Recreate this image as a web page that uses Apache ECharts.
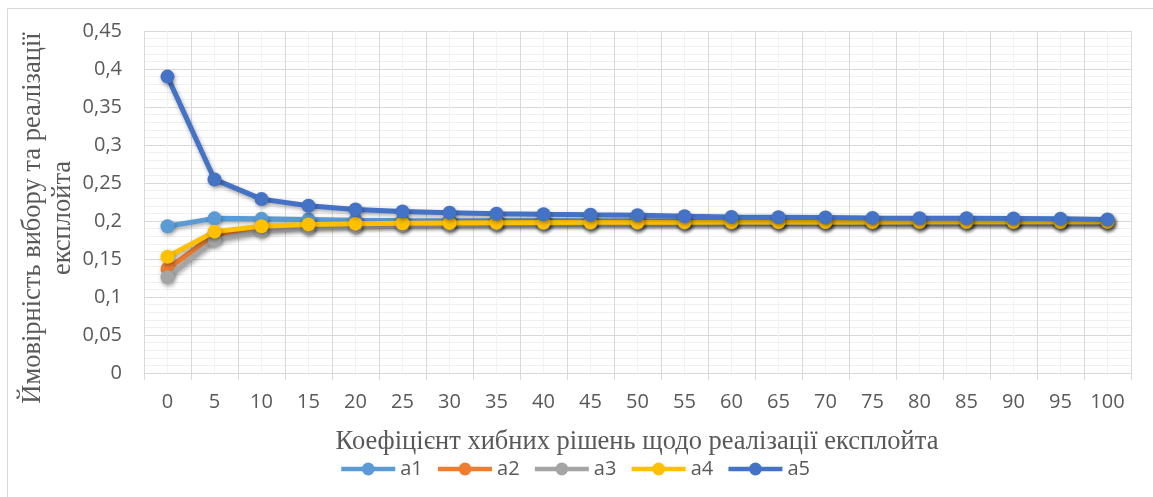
<!DOCTYPE html>
<html>
<head>
<meta charset="utf-8">
<script src="https://cdn.jsdelivr.net/npm/echarts@6/dist/echarts.min.js"></script>
<style>html,body{margin:0;padding:0;background:#fff;}#c{width:1153px;height:497px;}</style>
</head>
<body>
<div id="c"></div>
<script>
const categories = ['0','5','10','15','20','25','30','35','40','45','50','55','60','65','70','75','80','85','90','95','100'];
const a1 = [0.193,0.2035,0.2028,0.202,0.201,0.2006,0.2004,0.2003,0.2002,0.2001,0.2001,0.2,0.2,0.2,0.2,0.2,0.2,0.2,0.2,0.2,0.2];
const a2 = [0.137,0.182,0.191,0.194,0.1955,0.1963,0.197,0.1974,0.1977,0.1979,0.198,0.1981,0.1982,0.1983,0.1984,0.1984,0.1985,0.1985,0.1985,0.1985,0.1985];
const a3 = [0.126,0.175,0.187,0.191,0.193,0.1945,0.1953,0.196,0.1965,0.197,0.1972,0.1975,0.1977,0.1979,0.198,0.198,0.1981,0.1982,0.1983,0.1984,0.1985];
const a4 = [0.153,0.186,0.193,0.1955,0.1965,0.197,0.1975,0.1978,0.198,0.1982,0.1984,0.1985,0.1986,0.1987,0.1988,0.1988,0.1989,0.1989,0.199,0.199,0.199];
const a5 = [0.39,0.2547,0.2288,0.22,0.2152,0.2125,0.211,0.2095,0.2088,0.2082,0.2077,0.2063,0.2054,0.205,0.2046,0.2041,0.2037,0.2037,0.2033,0.2028,0.202];
const seriesNames = ['a1','a2','a3','a4','a5'];
const seriesData = [a1,a2,a3,a4,a5];
const colors = ['#5B9BD5','#ED7D31','#A5A5A5','#FFC000','#4472C4'];
const xTitle = 'Коефіцієнт хибних рішень щодо реалізації експлойта';
const yTitle = 'Ймовірність вибору та реалізації\nексплойта';

const chart = echarts.init(document.getElementById('c'));
const labelFont = '"Open Sans", Carlito, Lato, sans-serif';
const titleFont = '"Liberation Serif", "DejaVu Serif", serif';
const shadow = {shadowColor:'rgba(0,0,0,0.35)', shadowBlur:4, shadowOffsetX:1, shadowOffsetY:2};

chart.setOption({
  animation:false,
  color: colors,
  grid:{left:144, right:22, top:31, bottom:124, containLabel:false},
  legend:{
    data: seriesNames, left:334, top:454, itemWidth:54, itemHeight:16, itemGap:13,
    lineStyle:{width:4.5},
    textStyle:{fontFamily:labelFont, fontSize:20, color:'#595959'}
  },
  graphic:[
    {type:'rect', shape:{x:7.5,y:8.5,width:1200,height:600}, style:{fill:'none', stroke:'#d9d9d9', lineWidth:1}, silent:true, z:-10},
    {type:'text', x:48, y:218, rotation:Math.PI/2,
      style:{text:yTitle, fontFamily:titleFont, fontSize:26.5, fill:'#595959', align:'center', verticalAlign:'middle', lineHeight:30}},
    {type:'text', x:637, y:442,
      style:{text:xTitle, fontFamily:titleFont, fontSize:26.5, fill:'#595959', align:'center', verticalAlign:'middle'}}
  ],
  xAxis:[
    {type:'category', data:categories, boundaryGap:true,
      axisLine:{show:true, lineStyle:{color:'#d9d9d9', width:1}},
      axisTick:{show:true, length:7, lineStyle:{color:'#d9d9d9'}},
      axisLabel:{fontFamily:labelFont, fontSize:20, color:'#595959', margin:19},
      splitLine:{show:true, lineStyle:{color:'#d9d9d9', width:1}}, z:3},
    {type:'value', min:0, max:42, interval:1, show:true, position:'top',
      axisLine:{show:false}, axisTick:{show:false}, axisLabel:{show:false},
      splitLine:{show:true, lineStyle:{color:'#f2f2f2', width:1}}}
  ],
  yAxis:{type:'value', min:0, max:0.45, interval:0.05,
    axisLine:{show:false}, axisTick:{show:false},
    axisLabel:{fontFamily:labelFont, fontSize:20, color:'#595959', margin:22,
      formatter:v=>String(+v.toFixed(2)).replace('.',',')},
    splitLine:{show:true, lineStyle:{color:'#d9d9d9', width:1}},
    minorTick:{show:false, splitNumber:5},
    minorSplitLine:{show:true, lineStyle:{color:'#f0f0f0', width:1}}
  },
  series: seriesNames.map((n,i)=>({
    name:n, type:'line', data:seriesData[i], xAxisIndex:0,
    symbol:'circle', symbolSize:14, showAllSymbol:true,
    lineStyle:Object.assign({width:5, color:colors[i]}, shadow),
    itemStyle:Object.assign({color:colors[i]}, shadow),
    z:5+i
  }))
});
</script>
</body>
</html>
